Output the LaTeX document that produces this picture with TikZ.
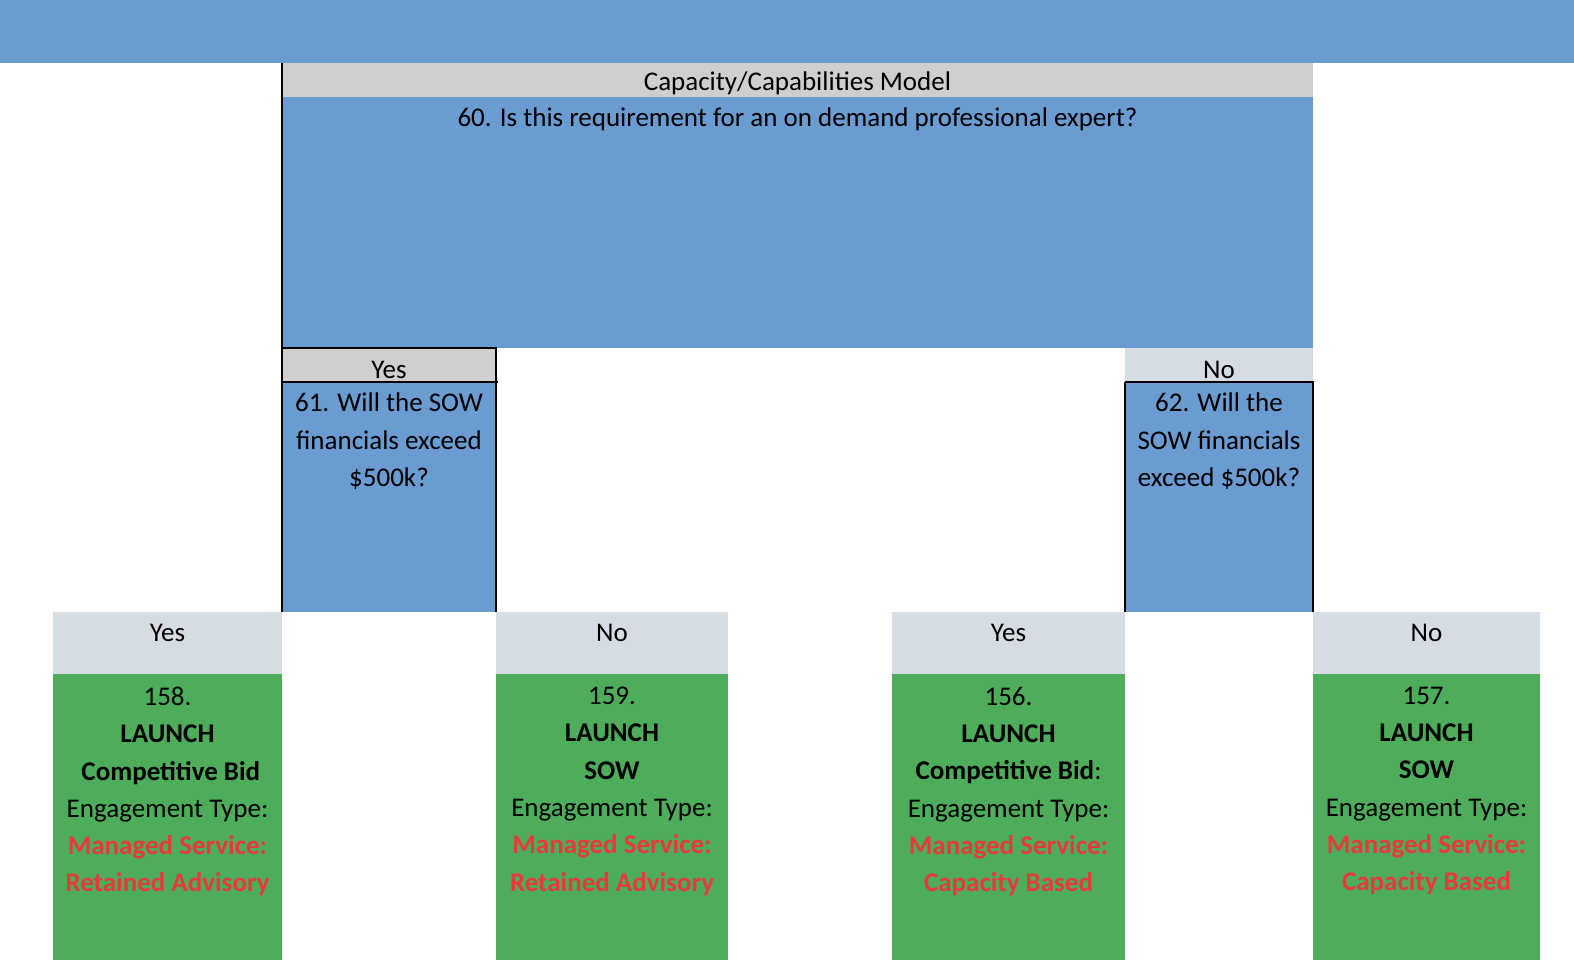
\documentclass[tikz,border=0pt]{standalone}
\usepackage{fontspec}
\usetikzlibrary{calc}
\setmainfont{Carlito}
\definecolor{qblue}{HTML}{6A9BD1}
\definecolor{hgray}{HTML}{D0CECE}
\definecolor{hlight}{HTML}{D6DCE4}
\definecolor{lgreen}{HTML}{4EAD5B}
\definecolor{tred}{HTML}{E8383A}
\tikzset{
  cell/.style={inner sep=0pt, outer sep=0pt, draw=none},
  txt/.style={inner sep=0pt, outer sep=0pt, align=center, font=\fontsize{27}{37.3}\selectfont},
  border/.style={draw=black, line width=2pt}
}
\begin{document}
\begin{tikzpicture}[x=1pt,y=-1pt]
\useasboundingbox (0,0) rectangle (1574,960);
% banner
\node[cell, fill=qblue, minimum width=1574pt, minimum height=63pt, anchor=north west] (banner) at (0,0) {};
% top question
\node[cell, fill=hgray, minimum width=1031pt, minimum height=34pt, anchor=north west] (hdr) at (282,63) {};
\node[cell, fill=qblue, minimum width=1031pt, minimum height=251pt, anchor=north west] (q60) at (282,97) {};
\node[txt, anchor=base] (thdr) at ($(hdr.north)+(0,28)$) {Capacity/Capabilities Model};
\node[txt, anchor=north] (t60) at (797.5,108) {60. Is this requirement for an on demand professional expert?};
% left branch
\node[cell, fill=hgray, minimum width=214pt, minimum height=34pt, anchor=north west] (yes1) at (282,348) {};
\node[cell, fill=qblue, minimum width=214pt, minimum height=230pt, anchor=north west] (q61) at (282,382) {};
\node[txt, anchor=base] (tyes1) at ($(yes1.north)+(0,30)$) {Yes};
\node[txt, anchor=north] (t61) at (389,393) {61. Will the SOW\\financials exceed\\\$500k?};
% right branch
\node[cell, fill=hlight, minimum width=188pt, minimum height=34pt, anchor=north west] (no1) at (1125,348) {};
\node[cell, fill=qblue, minimum width=188pt, minimum height=230pt, anchor=north west] (q62) at (1125,382) {};
\node[txt, anchor=base] (tno1) at ($(no1.north)+(0,30)$) {No};
\node[txt, anchor=north] (t62) at (1219,393) {62. Will the\\SOW financials\\exceed \$500k?};
% borders
\draw[border] (hdr.north west) -- (q61.south west);
\draw[border] (yes1.north west) -- (yes1.north east) -- (q61.south east);
\draw[border] (yes1.south west) -- ([xshift=2pt]yes1.south east);
\draw[border] (q62.north west) -- (q62.south west);
\draw[border] (q62.north west) -- (q62.north east) -- (q62.south east);
% bottom outcomes
\foreach \nm/\xa/\xb/\lab in {a/53/282/Yes, b/496/728/No, c/892/1125/Yes, d/1313/1540/No}{
  \node[cell, fill=hlight, minimum width={\xb-\xa}, minimum height=62pt, anchor=north west] (h\nm) at (\xa,612) {};
  \node[cell, fill=lgreen, minimum width={\xb-\xa}, minimum height=286pt, anchor=north west] (g\nm) at (\xa,674) {};
  \node[txt, anchor=base] (th\nm) at ($(h\nm.north)+(0,29)$) {\lab};
}
\node[txt, anchor=north] (tga) at ($(ga.north)+(0,13)$) {158.\\\textbf{LAUNCH}\\\hspace{0.25em}\textbf{Competitive Bid}\\Engagement Type:\\{\color{tred}\textbf{Managed Service:}}\\{\color{tred}\textbf{Retained Advisory}}};
\node[txt, anchor=north] (tgb) at ($(gb.north)+(0,13)$) {159.\\\textbf{LAUNCH}\\\textbf{SOW}\\Engagement Type:\\{\color{tred}\textbf{Managed Service:}}\\{\color{tred}\textbf{Retained Advisory}}};
\node[txt, anchor=north] (tgc) at ($(gc.north)+(0,13)$) {156.\\\textbf{LAUNCH}\\\textbf{Competitive Bid}:\\Engagement Type:\\{\color{tred}\textbf{Managed Service:}}\\{\color{tred}\textbf{Capacity Based}}};
\node[txt, anchor=north] (tgd) at ($(gd.north)+(0,13)$) {157.\\\textbf{LAUNCH}\\\textbf{SOW}\\Engagement Type:\\{\color{tred}\textbf{Managed Service:}}\\{\color{tred}\textbf{Capacity Based}}};
\end{tikzpicture}
\end{document}
